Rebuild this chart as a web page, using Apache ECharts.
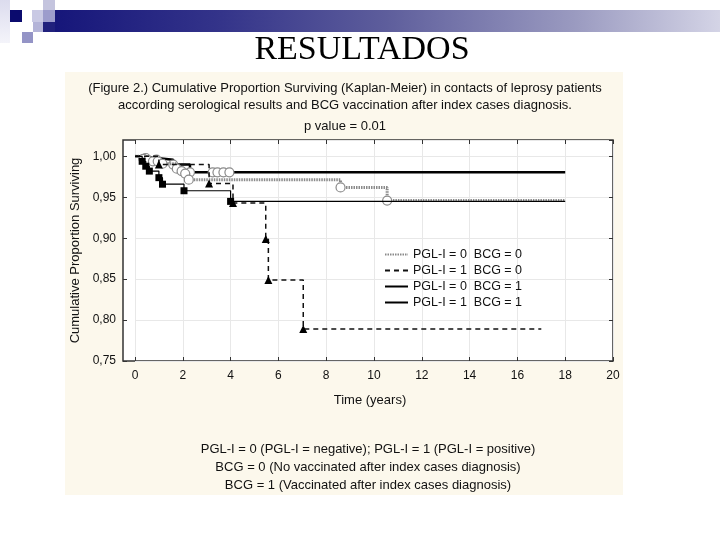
<!DOCTYPE html>
<html><head><meta charset="utf-8">
<script src="https://cdn.jsdelivr.net/npm/echarts@6/dist/echarts.min.js"></script>
<style>
html,body{margin:0;padding:0;background:#fff;}
#wrap{position:relative;width:720px;height:540px;overflow:hidden;background:#fff;}
.d{position:absolute;}
#chart{position:absolute;left:0;top:0;width:720px;height:540px;}
</style></head><body>
<div id="wrap">
  <div class="d" style="left:0;top:0;width:10px;height:43px;background:linear-gradient(#dcdcee,#f4f4fa)"></div>
  <div class="d" style="left:10px;top:10px;width:12px;height:12px;background:#0b0b6e"></div>
  <div class="d" style="left:32px;top:10px;width:11px;height:12px;background:#c9c9e4"></div>
  <div class="d" style="left:43px;top:0;width:12px;height:10px;background:#c4c4de"></div>
  <div class="d" style="left:43px;top:10px;width:12px;height:12px;background:#9c9ccc"></div>
  <div class="d" style="left:22px;top:32px;width:11px;height:11px;background:#9494c6"></div>
  <div class="d" style="left:33px;top:22px;width:10px;height:10px;background:#b4b4d8"></div>
  <div class="d" style="left:43px;top:22px;width:12px;height:10px;background:#20207c"></div>
  <div class="d" style="left:55px;top:10px;width:665px;height:22px;background:linear-gradient(to right,#16167a 0%,#34348a 25%,#5e5e9c 50%,#9a9ac0 78%,#d4d4e6 100%)"></div>
  <div class="d" style="left:65px;top:72px;width:558px;height:423px;background:#fcf8ec"></div>
  <div id="chart"></div>
</div>
<script>
// ---- data ----
const seriesNames = ['PGL-I = 0  BCG = 0', 'PGL-I = 1  BCG = 0', 'PGL-I = 0  BCG = 1', 'PGL-I = 1  BCG = 1'];
// PGL-I = 0, BCG = 0 (dotted grey, open circles)
const timeA = [0, 0.35, 0.55, 0.75, 0.95, 1.15, 1.75, 1.95, 2.1, 2.25, 8.6, 10.55, 18.0];
const survA = [1.0, 0.997, 0.995, 0.994, 0.994, 0.991, 0.985, 0.982, 0.979, 0.9715, 0.962, 0.946, 0.946];
// PGL-I = 1, BCG = 0 (dashed, filled triangles)
const timeB = [0, 1.0, 3.1, 4.1, 5.47, 5.58, 7.04, 17.0];
const survB = [1.0, 0.99, 0.967, 0.943, 0.899, 0.849, 0.789, 0.789];
// PGL-I = 0, BCG = 1 (thick solid, open circles)
const timeC = [0, 0.45, 0.9, 1.6, 2.3, 3.25, 3.45, 3.7, 3.95, 18.0];
const survC = [1.0, 0.998, 0.996, 0.99, 0.9805, 0.9805, 0.9805, 0.9805, 0.9805, 0.9805];
// PGL-I = 1, BCG = 1 (thin solid, filled squares)
const timeD = [0, 0.3, 0.45, 0.6, 1.0, 1.15, 2.05, 4.0, 18.0];
const survD = [1.0, 0.994, 0.988, 0.982, 0.974, 0.966, 0.958, 0.945, 0.945];

const xTickLabels = ['0','2','4','6','8','10','12','14','16','18','20'];
const yTickLabels = ['0,75','0,80','0,85','0,90','0,95','1,00'];

function pts(t, s) {
  return t.map(function (x, i) {
    const o = { value: [x, s[i]] };
    if (i === 0 || i === t.length - 1) o.symbol = 'none';
    return o;
  });
}
const FONT = '"Liberation Sans", Arial, sans-serif';
const chart = echarts.init(document.getElementById('chart'), null, { renderer: 'canvas' });
const yFmt = function (v) {
  const k = Math.round((v - 0.75) / 0.05);
  if (Math.abs(v - (0.75 + k * 0.05)) > 1e-6) return '';
  return yTickLabels[k] || '';
};
const option = {
  animation: false,
  textStyle: { fontFamily: FONT },
  graphic: [
    { type: 'text', x: 362, y: 50, style: { text: 'RESULTADOS', font: '34px "Liberation Serif", "Times New Roman", serif', fill: '#000', textAlign: 'center', textVerticalAlign: 'middle' } },
    { type: 'text', x: 345, y: 88, style: { text: '(Figure 2.) Cumulative Proportion Surviving (Kaplan-Meier) in contacts of leprosy patients', font: '13px ' + FONT, fill: '#111', textAlign: 'center', textVerticalAlign: 'middle' } },
    { type: 'text', x: 345, y: 105, style: { text: 'according serological results and BCG vaccination after index cases diagnosis.', font: '13px ' + FONT, fill: '#111', textAlign: 'center', textVerticalAlign: 'middle' } },
    { type: 'text', x: 345, y: 126, style: { text: 'p value = 0.01', font: '13px ' + FONT, fill: '#111', textAlign: 'center', textVerticalAlign: 'middle' } },
    { type: 'text', x: 368, y: 449, style: { text: 'PGL-I = 0 (PGL-I = negative); PGL-I = 1 (PGL-I = positive)', font: '13px ' + FONT, fill: '#111', textAlign: 'center', textVerticalAlign: 'middle' } },
    { type: 'text', x: 368, y: 467, style: { text: 'BCG = 0 (No vaccinated after index cases diagnosis)', font: '13px ' + FONT, fill: '#111', textAlign: 'center', textVerticalAlign: 'middle' } },
    { type: 'text', x: 368, y: 485, style: { text: 'BCG = 1 (Vaccinated after index cases diagnosis)', font: '13px ' + FONT, fill: '#111', textAlign: 'center', textVerticalAlign: 'middle' } }
  ],
  legend: {
    orient: 'vertical', left: 379, top: 243,
    itemWidth: 23, itemHeight: 12, itemGap: 3,
    itemStyle: { opacity: 0 },
    textStyle: { fontSize: 12.5, color: '#111', fontFamily: FONT },
    data: seriesNames
  },
  grid: [
    { left: 123, right: 107, top: 140, bottom: 179, show: true, backgroundColor: '#fff', borderColor: '#333', borderWidth: 1.5 },
    { left: 135, right: 107, top: 140, bottom: 179 }
  ],
  xAxis: [
    { gridIndex: 0, type: 'value', min: 0, max: 1, show: false },
    { gridIndex: 1, type: 'value', min: 0, max: 20, interval: 2, position: 'bottom',
      axisLine: { show: false }, axisTick: { inside: true, length: 4, lineStyle: { color: '#333' } },
      axisLabel: { color: '#111', fontSize: 12, margin: 9, formatter: function (v) { return xTickLabels[Math.round(v / 2)]; } },
      splitLine: { show: true, lineStyle: { color: '#e8e8e8', width: 1 } },
      name: 'Time (years)', nameLocation: 'middle', nameGap: 33, nameTextStyle: { fontSize: 13, color: '#111', padding: [0, 8, 0, 0] } },
    { gridIndex: 1, type: 'value', min: 0, max: 20, interval: 2, position: 'top',
      axisLine: { show: false }, axisTick: { inside: true, length: 4, lineStyle: { color: '#333' } },
      axisLabel: { show: false }, splitLine: { show: false } }
  ],
  yAxis: [
    { gridIndex: 0, type: 'value', min: 0.75, max: 1.02, interval: 0.05, position: 'left',
      axisLine: { show: false }, axisTick: { inside: true, length: 4, lineStyle: { color: '#333' } },
      axisLabel: { color: '#111', fontSize: 12, margin: 7, formatter: yFmt, showMaxLabel: false },
      splitLine: { show: false },
      name: 'Cumulative Proportion Surviving', nameLocation: 'middle', nameGap: 30, nameRotate: 90,
      nameTextStyle: { fontSize: 13, color: '#111' } },
    { gridIndex: 0, type: 'value', min: 0.75, max: 1.02, interval: 0.05, position: 'right',
      axisLine: { show: false }, axisTick: { inside: true, length: 4, lineStyle: { color: '#333' } },
      axisLabel: { show: false }, splitLine: { show: false } },
    { gridIndex: 1, type: 'value', min: 0.75, max: 1.02, interval: 0.05,
      axisLine: { show: false }, axisTick: { show: false }, axisLabel: { show: false },
      splitLine: { show: true, lineStyle: { color: '#e8e8e8', width: 1 } } }
  ],
  series: [
    { name: seriesNames[0], type: 'line', step: 'end', xAxisIndex: 1, yAxisIndex: 2, z: 3,
      data: pts(timeA, survA), symbol: 'circle', symbolSize: 9,
      itemStyle: { color: '#fff', borderColor: '#8a8a8a', borderWidth: 1.2 },
      lineStyle: { color: '#8a8a8a', width: 3, type: [1.5, 1] } },
    { name: seriesNames[1], type: 'line', step: 'end', xAxisIndex: 1, yAxisIndex: 2, z: 4,
      data: pts(timeB, survB), symbol: 'triangle', symbolSize: 8,
      itemStyle: { color: '#000' },
      lineStyle: { color: '#111', width: 1.5, type: [5, 4] } },
    { name: seriesNames[2], type: 'line', step: 'end', xAxisIndex: 1, yAxisIndex: 2, z: 2,
      data: pts(timeC, survC), symbol: 'circle', symbolSize: 9,
      itemStyle: { color: '#fff', borderColor: '#8a8a8a', borderWidth: 1.2 },
      lineStyle: { color: '#000', width: 2.5 } },
    { name: seriesNames[3], type: 'line', step: 'end', xAxisIndex: 1, yAxisIndex: 2, z: 5,
      data: pts(timeD, survD), symbol: 'rect', symbolSize: 7,
      itemStyle: { color: '#000' },
      lineStyle: { color: '#000', width: 1.2 } }
  ]
};
chart.setOption(option);
</script>
</body></html>
